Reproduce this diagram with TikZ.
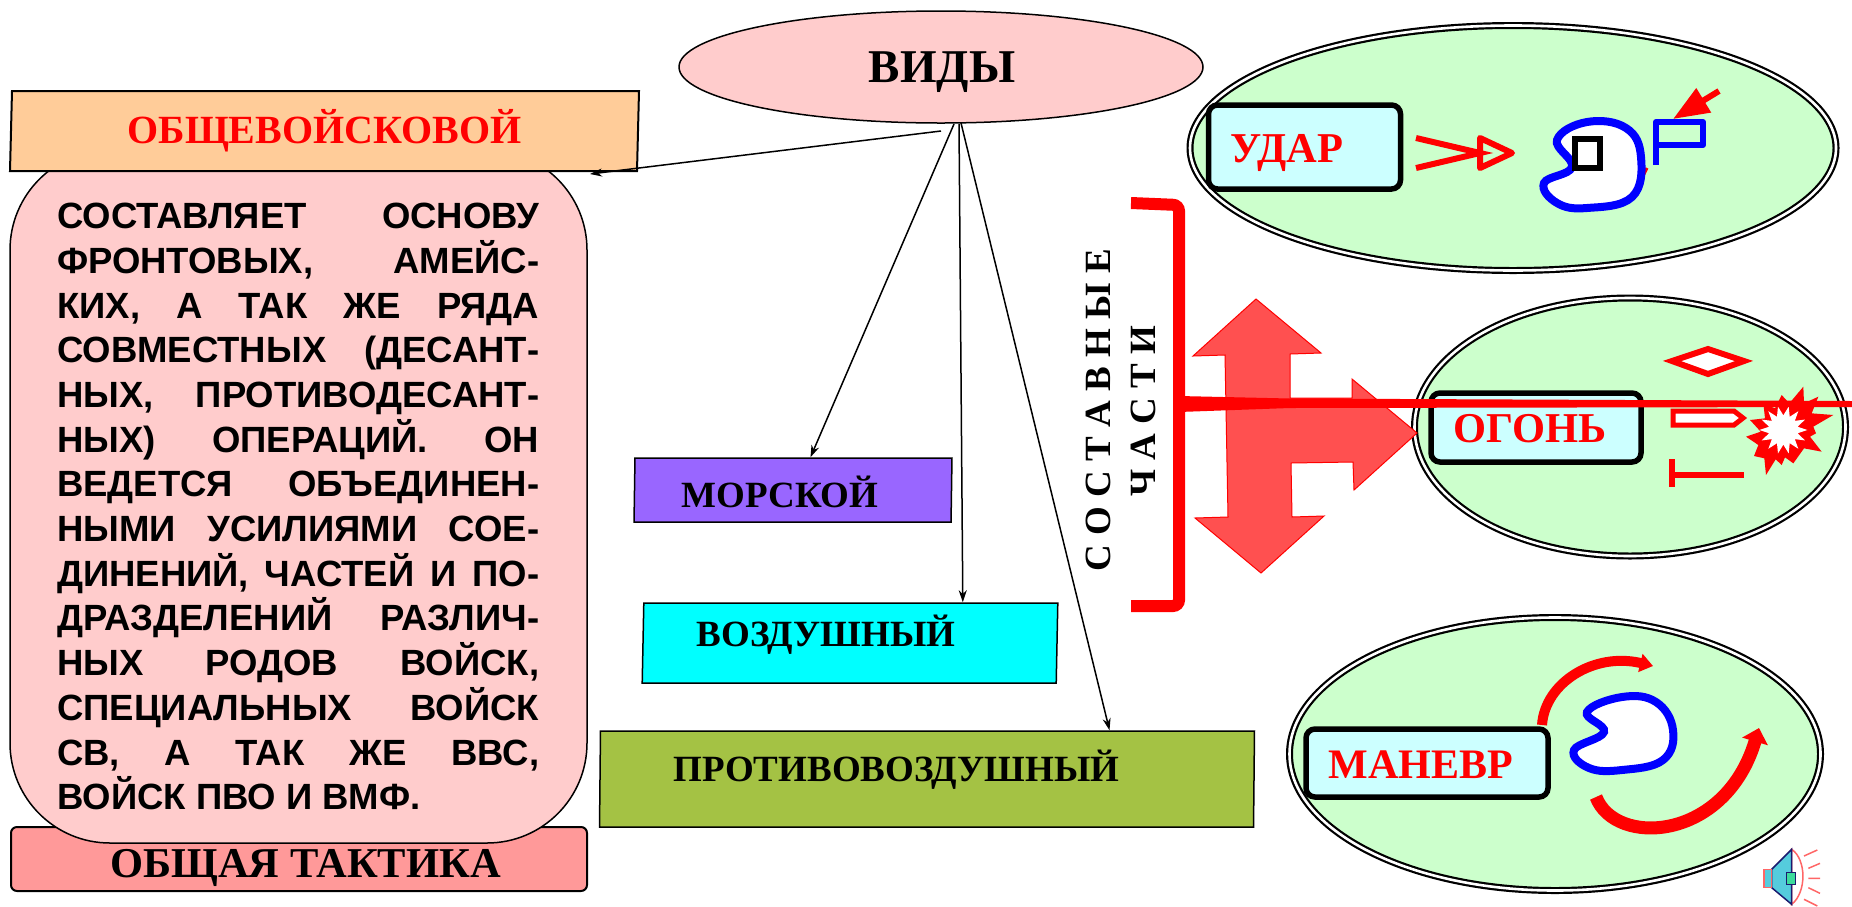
\documentclass[tikz,border=0pt]{standalone}
\usepackage{fontspec}
\setmainfont{Liberation Serif}
\setsansfont{Liberation Sans}
\usetikzlibrary{shapes.geometric, arrows.meta, positioning}
\definecolor{peach}{HTML}{FFCC99}
\definecolor{rosepink}{HTML}{FFCCCC}
\definecolor{deeppink}{HTML}{FF9999}
\definecolor{seaviolet}{HTML}{9966FF}
\definecolor{aircyan}{HTML}{00FFFF}
\definecolor{fieldolive}{HTML}{A4C244}
\definecolor{palegreen}{HTML}{CCFFCC}
\definecolor{palecyan}{HTML}{CCFFFF}
\definecolor{crossred}{HTML}{FF5050}
\definecolor{hornblue}{HTML}{55CCDD}
\definecolor{hornline}{HTML}{1A1A6E}
\definecolor{hornray}{HTML}{FF6666}
\begin{document}
\begin{tikzpicture}[
    x=1pt, y=-1pt,
    kindbox/.style={rectangle, draw=black, line width=1.5pt, inner sep=0pt},
    kindtext/.style={anchor=base, inner sep=0pt, font=\bfseries\fontsize{37}{39}\selectfont},
    partoval/.style={ellipse, draw=black, line width=2.2pt, double=white, double distance=2.6pt, fill=palegreen, inner sep=0pt},
    partbox/.style={rectangle, draw=black, line width=5.5pt, fill=palecyan, rounded corners=9pt, inner sep=0pt},
    parttext/.style={anchor=base, inner sep=0pt, text=red, font=\bfseries\fontsize{42.5}{45}\selectfont},
    arrow/.style={-{Stealth[length=12pt, width=8pt]}, line width=1.5pt},
    sign/.style={draw=red, line width=6pt},
    enemy/.style={draw=blue, line width=8pt, fill=white},
    vtext/.style={rotate=90, font=\bfseries\fontsize{37}{39}\selectfont, inner sep=0pt},
    ray/.style={draw=hornray, line width=1.5pt}
]
\useasboundingbox (0,0) rectangle (1852,906);

% Left column
\node (tactic) [kindbox, line width=2pt, fill=deeppink, rounded corners=6pt, minimum width=576pt, minimum height=64pt] at (299,859) {};
\node (textbox) [kindbox, fill=rosepink, rounded corners=100pt, minimum width=577pt, minimum height=693pt] at (298.5,496.5) {};
\node (textbody) [anchor=north west, inner sep=0pt, text width=482pt, align=justify, font=\sffamily\bfseries\fontsize{36.5}{44.7}\selectfont] at (57,203) {%
СОСТАВЛЯЕТ ОСНОВУ\linebreak
ФРОНТОВЫХ, АМЕЙС-\linebreak
КИХ, А ТАК ЖЕ РЯДА\linebreak
СОВМЕСТНЫХ (ДЕСАНТ-\linebreak
НЫХ, ПРОТИВОДЕСАНТ-\linebreak
НЫХ) ОПЕРАЦИЙ. ОН\linebreak
ВЕДЕТСЯ ОБЪЕДИНЕН-\linebreak
НЫМИ УСИЛИЯМИ СОЕ-\linebreak
ДИНЕНИЙ, ЧАСТЕЙ И ПО-\linebreak
ДРАЗДЕЛЕНИЙ РАЗЛИЧ-\linebreak
НЫХ РОДОВ ВОЙСК,\linebreak
СПЕЦИАЛЬНЫХ ВОЙСК\linebreak
СВ, А ТАК ЖЕ ВВС,\linebreak
ВОЙСК ПВО И ВМФ.};
\node (tactictext) [kindtext, font=\bfseries\fontsize{42.5}{45}\selectfont] at (305.5,877) {ОБЩАЯ ТАКТИКА};
\node (common) [kindbox, line width=2pt, fill=peach, minimum width=627pt, minimum height=80pt, transform shape, xslant=.025] at (324.5,131) {};
\node (commontext) [kindtext, text=red, font=\bfseries\fontsize{40}{42}\selectfont] at (324.5,143) {ОБЩЕВОЙСКОВОЙ};

% Kinds
\node (kinds) [ellipse, draw=black, line width=1.5pt, fill=rosepink, minimum width=524pt, minimum height=112pt, inner sep=0pt] at (941,67) {};
\node (kindstext) [kindtext, font=\bfseries\fontsize{47}{49}\selectfont] at (942,82) {ВИДЫ};
\node (sea) [kindbox, fill=seaviolet, minimum width=317pt, minimum height=64pt, transform shape, xslant=.015] at (793,490) {};
\node (seatext) [kindtext] at (780,507) {МОРСКОЙ};
\node (air) [kindbox, fill=aircyan, minimum width=414pt, minimum height=80pt, transform shape, xslant=.02] at (850,643) {};
\node (airtext) [kindtext] at (826,646) {ВОЗДУШНЫЙ};
\node (antiair) [kindbox, fill=fieldolive, minimum width=654pt, minimum height=96pt, transform shape, xslant=.01] at (927,779) {};
\node (antiairtext) [kindtext] at (896.5,781) {ПРОТИВОВОЗДУШНЫЙ};

\coordinate (commonend) at (590,174);
\draw [arrow] (941,131) -- (commonend);
\draw [arrow] (954,124) -- ([xshift=17pt]sea.north);
\draw [arrow] (959,124) -- ([xshift=112pt]air.north);
\draw [arrow] (961,123) -- ([xshift=182pt]antiair.north);

% Side caption
\node (partsa) [vtext] at (1098,410) {С О С Т А В Н Ы Е};
\node (partsb) [vtext] at (1143,411) {Ч А С Т И};

% Ovals
\node (strikeoval) [partoval, minimum width=646pt, minimum height=245pt] at (1513,148) {};
\node (fireoval) [partoval, minimum width=431pt, minimum height=258pt] at (1630,427) {};
\node (moveoval) [partoval, minimum width=531pt, minimum height=273pt] at (1555,754) {};

% Bracket and cross
\draw [red, line width=12pt, rounded corners=6pt] (1131,203) -- (1179,205) -- (1179,606) -- (1131,606);
\draw [red, line width=1pt, fill=crossred] (1256,299) -- (1321,353) -- (1290,354) -- (1290,398) -- (1352,398) -- (1352,379)
    -- (1417,433) -- (1354,490) -- (1353,462) -- (1291,463) -- (1292,517) -- (1324,516) -- (1261,573)
    -- (1195,518) -- (1228,517) -- (1225,355) -- (1193,356) -- cycle;

% Strike
\node (strikebox) [partbox, minimum width=192pt, minimum height=84pt] at (1304.5,147) {};
\node (striketext) [parttext] at (1287,162) {УДАР};
\draw [sign] (1416,138) -- (1480,153) -- (1416,168);
\draw [sign, line join=round] (1480,138) -- (1512,153) -- (1480,168) -- cycle;
\draw [red, line width=3pt] (1647,168) -- (1636,190);
\draw [enemy] plot [smooth cycle, tension=.7] coordinates {(1557,140) (1587,122) (1626,128) (1641,157) (1632,197) (1587,208) (1557,203) (1544,183) (1572,167)};
\draw [black, line width=6pt, fill=white] (1575,139) rectangle (1600,168);
\draw [blue, line width=6pt, line join=round] (1656,165) -- (1656,122) -- (1703,122) -- (1703,145) -- (1656,145);
\draw [red, line width=6pt, -{Triangle[length=36pt, width=27pt]}] (1719,91) -- (1673,119);

% Fire
\node (firebox) [partbox, minimum width=210pt, minimum height=69pt] at (1536,427.5) {};
\node (firetext) [parttext] at (1530,442) {ОГОНЬ};
\draw [sign, fill=white] (1672,361) -- (1708,349) -- (1744,361) -- (1708,374) -- cycle;
\draw [red, line width=5pt, fill=white] (1673,411) -- (1734,411) -- (1743,418) -- (1734,425) -- (1673,425) -- cycle;
\draw [sign] (1672,459) -- (1672,487) (1672,475) -- (1744,475);
\begin{scope}[shift={(1730,370)}, x=.3333pt, y=-.3333pt]
\fill [red] (220,50) -- (222,100) -- (265,80) -- (245,130) -- (310,135) -- (250,170) -- (258,190) -- (240,200) -- (275,245)
    -- (222,235) -- (190,280) -- (165,262) -- (155,285) -- (137,268) -- (108,315) -- (103,265) -- (72,258) -- (85,225)
    -- (48,200) -- (92,185) -- (60,150) -- (105,145) -- (100,100) -- (135,115) -- (155,75) -- (178,100) -- cycle;
\fill [white] plot [samples at={0,12.857,...,350}, variable=\a] ({160+(58+14*cos(14*\a))*cos(\a)}, {180+(58+14*cos(14*\a))*sin(\a)}) -- cycle;
\end{scope}

% Manoeuvre
\node (movebox) [partbox, minimum width=242pt, minimum height=68pt] at (1427,763) {};
\node (movetext) [parttext, font=\bfseries\fontsize{42}{44}\selectfont] at (1421,778) {МАНЕВР};
\draw [enemy] plot [smooth cycle, tension=.7] coordinates {(1587,712) (1622,697) (1656,702) (1673,730) (1663,760) (1622,770) (1589,768) (1574,750) (1604,732)};
\draw [red, line width=10pt, -{Triangle[length=13pt, width=18pt]}] (1542,725) .. controls (1545,682) and (1595,652) .. (1653,666);
\draw [red, line width=13pt, -{Triangle[length=14pt, width=26pt]}] (1596,797) .. controls (1615,847) and (1725,842) .. (1759,728);

% Fire line
\fill [red] (1179,396) -- (1290,398.5) -- (1852,401) -- (1852,407) -- (1290,408) -- (1179,412) -- cycle;

% Loudspeaker
\begin{scope}[shift={(1740,836)}, x=.3333pt, y=-.3333pt]
\draw [hornray, line width=1.5pt, fill=white] (155,40) .. controls (200,70) and (200,170) .. (155,205) -- cycle;
\draw [hornline, line width=1.5pt, fill=hornblue] (95,100) -- (155,40) -- (155,205) -- (95,155) -- cycle;
\draw [hornray, line width=1.5pt, fill=hornblue] (72,100) rectangle (95,155);
\draw [hornline, line width=1pt, fill=hornblue!70!green] (140,110) rectangle (165,145);
\draw [ray] (192,60) -- (232,42) (205,97) -- (240,82) (205,127) -- (240,127) (205,155) -- (240,172) (192,190) -- (232,210);
\end{scope}
\end{tikzpicture}
\end{document}
